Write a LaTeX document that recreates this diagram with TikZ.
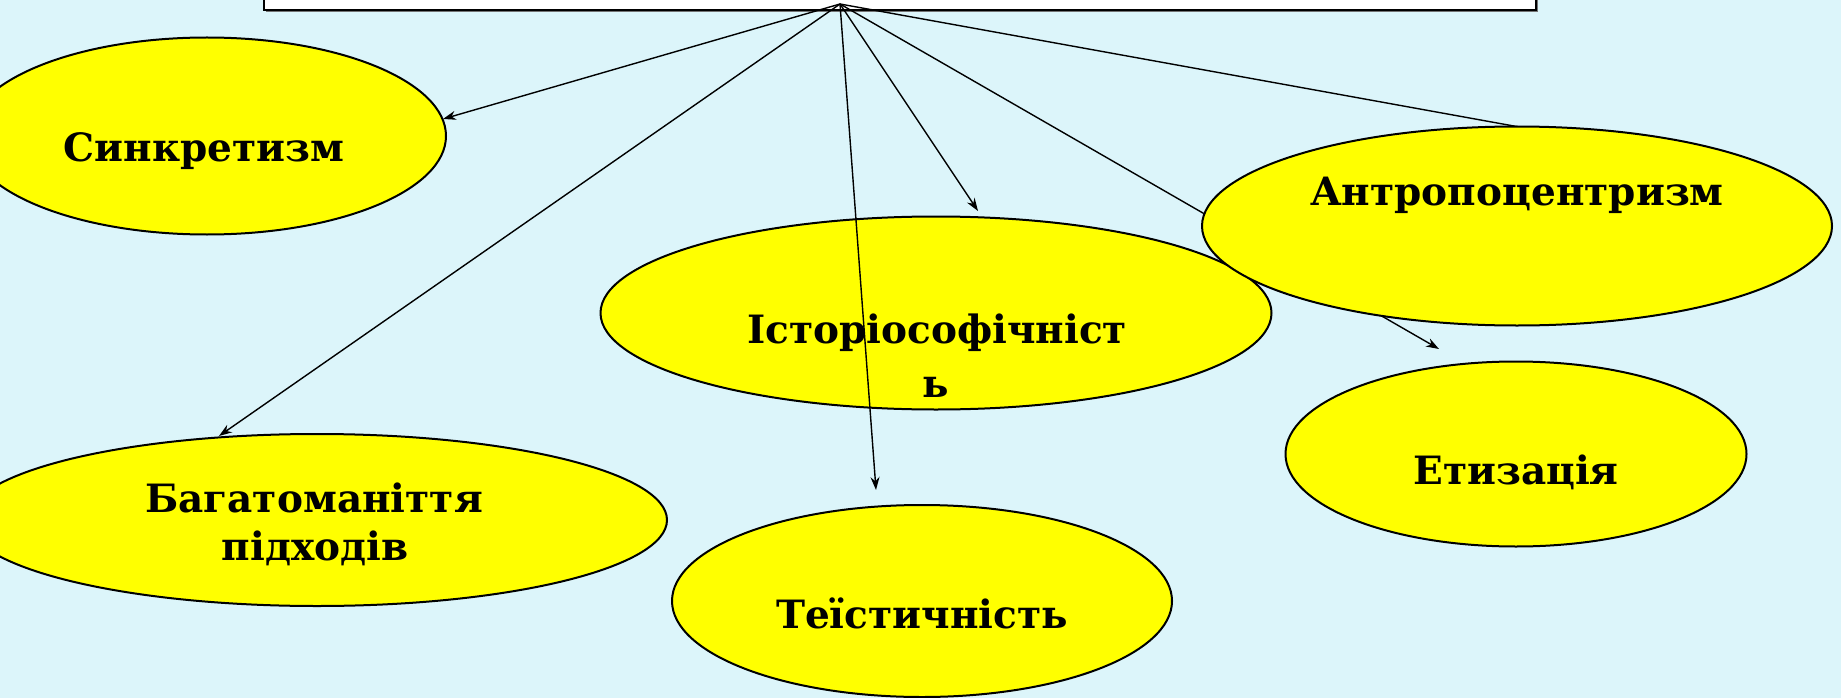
\documentclass[tikz,border=0pt]{standalone}
\usepackage{fontspec}
\setmainfont{DejaVu Serif}
\usetikzlibrary{shapes.geometric,arrows.meta}
\definecolor{bgcol}{RGB}{220,245,250}
\definecolor{ovalcol}{RGB}{255,255,0}
\begin{document}
\begin{tikzpicture}[x=1pt,y=-1pt,
  oval/.style={ellipse,draw=black,line width=2pt,fill=ovalcol,inner sep=0pt},
  lbl/.style={font=\fontsize{39}{47}\selectfont\bfseries,anchor=base,inner sep=0pt},
  link/.style={draw=black,line width=1.4pt,-{Stealth[length=13pt,width=9pt]}},
  titlebox/.style={draw=black,fill=white,line width=2pt,inner sep=0pt,minimum width=1272pt,minimum height=40pt}]
\useasboundingbox (0,0) rectangle (1841,698);
\fill[bgcol] (0,0) rectangle (1841,698);
% title box (cut off at the top)
\fill[black!55] (266,-28) rectangle (1538,12.5);
\node[titlebox] (title) at (900,-10) {};
\coordinate (apex) at (840,4);
% ellipses drawn below the connectors
\node[oval,minimum width=671pt,minimum height=193pt] (ist) at (936,313) {};
\node[oval,minimum width=500pt,minimum height=192pt] (teis) at (922,601) {};
\node[oval,minimum width=461pt,minimum height=185pt] (etyz) at (1516,454) {};
% arrow ends
\coordinate (tS) at (443,119);
\coordinate (tB) at (219,436);
\coordinate (tI) at (978,211);
\coordinate (tT) at (876,490);
\coordinate (tE) at (1439,349);
\coordinate (tA) at (1580,138);
\draw[link] (apex) -- (tS);
\draw[link] (apex) -- (tB);
\draw[link] (apex) -- (tI);
\draw[link] (apex) -- (tT);
\draw[link] (apex) -- (tE);
\draw[link] (apex) -- (tA);
% ellipses drawn above the connectors
\node[oval,minimum width=630pt,minimum height=199pt] (antr) at (1517,226) {};
\node[oval,minimum width=478pt,minimum height=197pt] (synk) at (207,136) {};
\node[oval,minimum width=700pt,minimum height=172pt] (bahat) at (317,520) {};
% labels
\node[lbl] (lS) at (204,161) {Синкретизм};
\node[lbl] (lB1) at (314,512) {Багатоманіття};
\node[lbl] (lB2) at (315,560) {підходів};
\node[lbl] (lI1) at (937,343) {Історіософічніст};
\node[lbl] (lI2) at (936,397) {ь};
\node[lbl] (lT) at (922,628) {Теїстичність};
\node[lbl] (lA) at (1517,205) {Антропоцентризм};
\node[lbl] (lE) at (1516,484) {Етизація};
\end{tikzpicture}
\end{document}
